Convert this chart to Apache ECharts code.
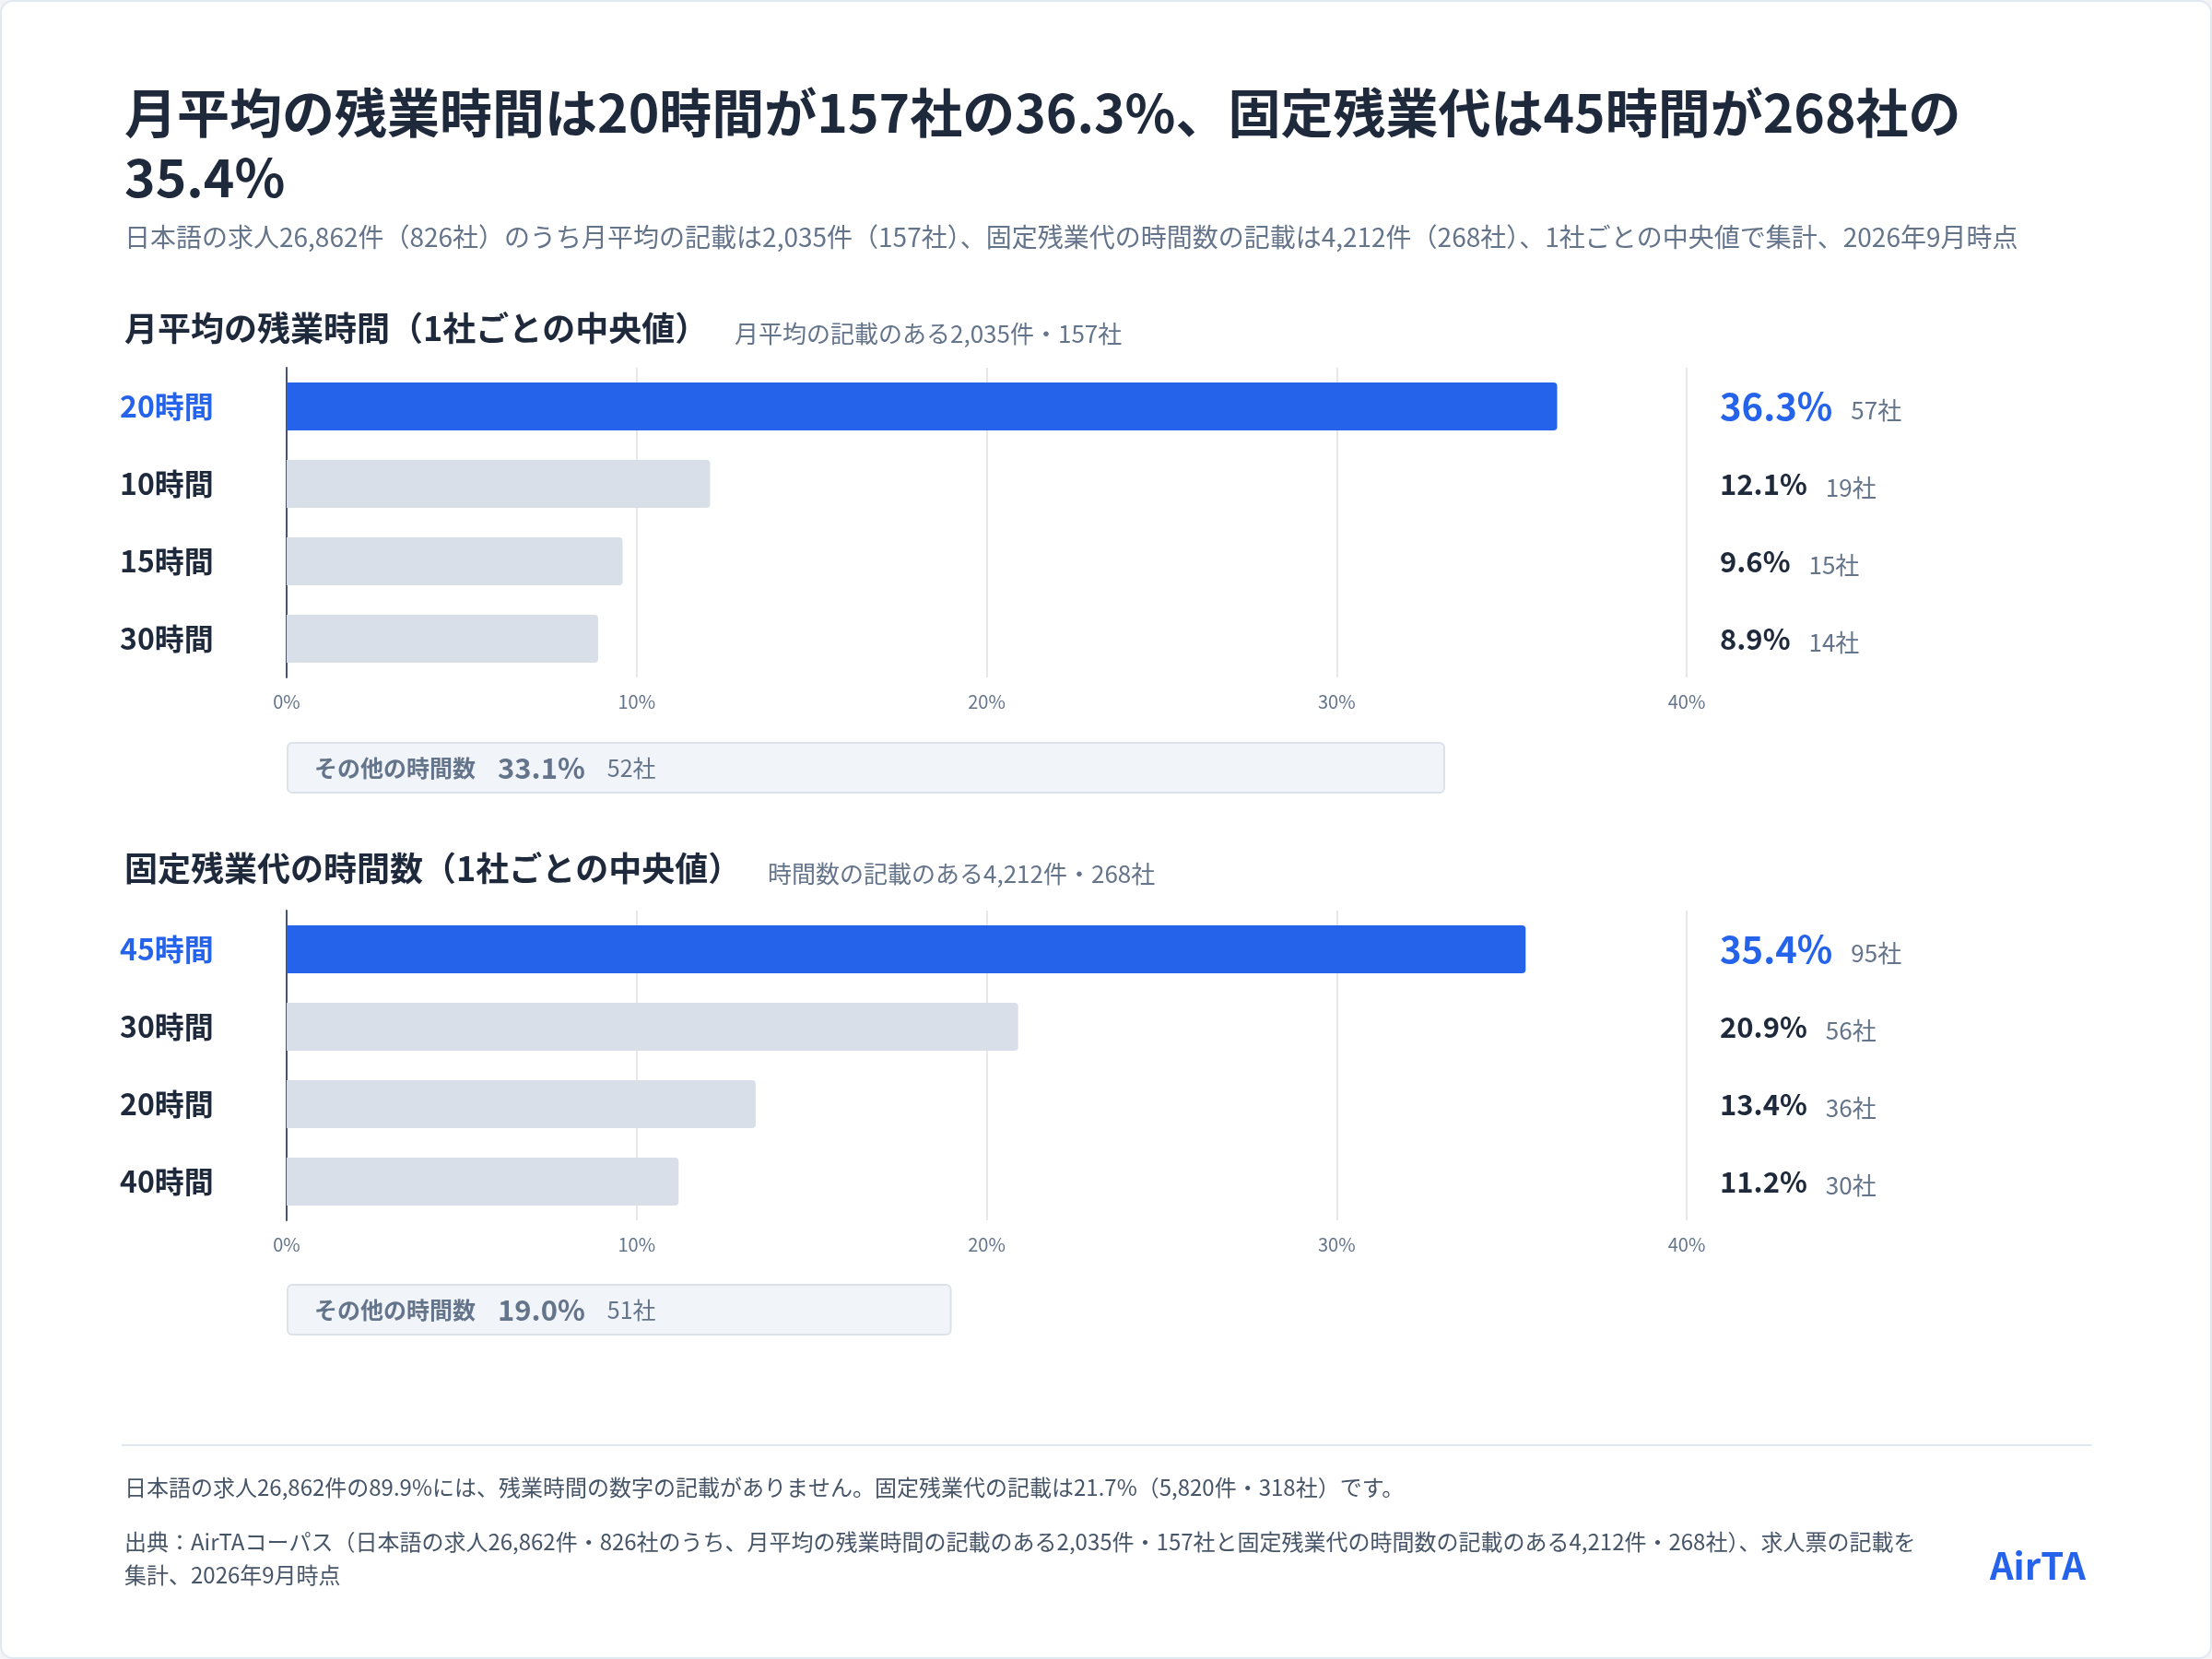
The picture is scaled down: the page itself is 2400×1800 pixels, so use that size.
<!DOCTYPE html>
<html>
<head>
<meta charset="utf-8">
<script src="https://cdn.jsdelivr.net/npm/echarts@6/dist/echarts.min.js"></script>
<style>
html, body { margin: 0; padding: 0; background: #f3f4f6; }
#card { position: absolute; left: 0; top: 0; width: 2396px; height: 1796px; background: #fff; border: 2px solid #e2e8f0; border-radius: 14px; }
#main { width: 2396px; height: 1796px; }
</style>
</head>
<body>
<div id="card"><div id="main"></div></div>
<script>
var FONT = '"Noto Sans CJK JP", "Noto Sans", sans-serif';

// 月平均の残業時間
var cats1 = ['20時間', '10時間', '15時間', '30時間'];
var pct1 = [36.3, 12.1, 9.6, 8.9];
var cnt1 = [57, 19, 15, 14];
var other1 = 33.1, otherCnt1 = 52;

// 固定残業代の時間数
var cats2 = ['45時間', '30時間', '20時間', '40時間'];
var pct2 = [35.4, 20.9, 13.4, 11.2];
var cnt2 = [95, 56, 36, 30];
var other2 = 19.0, otherCnt2 = 51;

var xTicks = [0, 10, 20, 30, 40];

var BLUE = '#2563eb', GREY = '#d9dfe8', DARK = '#1e293b', MUTED = '#64748b';

var chart = echarts.init(document.getElementById('main'));

function mainGrid(top) {
    return { left: 309, right: 2396 - 1828, top: top, height: 336 };
}
function otherGrid(top) {
    return { left: 309, right: 2396 - 1828, top: top, height: 58 };
}
function valueAxis(gi, show) {
    return {
        type: 'value', gridIndex: gi, min: xTicks[0], max: xTicks[xTicks.length - 1], interval: 10,
        axisLine: { show: false }, axisTick: { show: false },
        splitLine: { show: show, lineStyle: { color: '#e5e7eb', width: 2 } },
        axisLabel: { show: show, formatter: '{value}%', color: MUTED, fontSize: 20, fontFamily: FONT, margin: 16 }
    };
}
function catAxis(gi, cats) {
    return {
        type: 'category', gridIndex: gi, data: cats, inverse: true,
        axisTick: { show: false },
        axisLine: { show: true, lineStyle: { color: '#475569', width: 2 } },
        axisLabel: {
            margin: 181, align: 'left', fontSize: 32, fontWeight: 'bold', fontFamily: FONT,
            color: function (v, i) { return i === 0 ? BLUE : DARK; }
        }
    };
}
function rightAxis(gi, cats, pct, cnt) {
    return {
        type: 'category', gridIndex: gi, data: cats, inverse: true, position: 'right',
        axisTick: { show: false }, axisLine: { show: false },
        axisLabel: {
            margin: 36, align: 'left',
            formatter: function (v, i) {
                return (i === 0 ? '{h|' : '{p|') + pct[i].toFixed(1) + '%}{c|' + cnt[i] + '社}';
            },
            rich: {
                h: { fontSize: 40, fontWeight: 'bold', color: BLUE, fontFamily: FONT },
                p: { fontSize: 31, fontWeight: 'bold', color: DARK, fontFamily: FONT },
                c: { fontSize: 26, color: MUTED, fontFamily: FONT, padding: [8, 0, 0, 20] }
            }
        }
    };
}
function hiddenCat(gi) {
    return { type: 'category', gridIndex: gi, data: ['その他'], show: false };
}
function barSeries(xi, yi, pct) {
    return {
        type: 'bar', xAxisIndex: xi, yAxisIndex: yi, barWidth: 52,
        data: pct.map(function (v, i) {
            return { value: v, itemStyle: { color: i === 0 ? BLUE : GREY, borderRadius: [0, 4, 4, 0] } };
        })
    };
}
function otherSeries(xi, yi, val, cnt) {
    return {
        type: 'bar', xAxisIndex: xi, yAxisIndex: yi, barWidth: 56, silent: true,
        itemStyle: { color: '#f1f5f9', borderColor: '#dbe2ea', borderWidth: 2, borderRadius: 5 },
        label: {
            show: true, position: 'insideLeft', distance: 30,
            formatter: '{a|その他の時間数}{b|' + val.toFixed(1) + '%}{c|' + cnt + '社}',
            rich: {
                a: { fontSize: 25, fontWeight: 'bold', color: MUTED, fontFamily: FONT },
                b: { fontSize: 31, fontWeight: 'bold', color: MUTED, fontFamily: FONT, padding: [0, 0, 0, 24] },
                c: { fontSize: 25, color: MUTED, fontFamily: FONT, padding: [0, 0, 0, 24] }
            }
        },
        data: [val]
    };
}

var option = {
    backgroundColor: 'transparent',
    title: [
        { text: '月平均の残業時間は20時間が157社の36.3%、固定残業代は45時間が268社の\n35.4%', left: 128, top: 80,
          textStyle: { fontSize: 57, fontWeight: 'bold', color: DARK, fontFamily: FONT, lineHeight: 70 } },
        { text: '日本語の求人26,862件（826社）のうち月平均の記載は2,035件（157社）、固定残業代の時間数の記載は4,212件（268社）、1社ごとの中央値で集計、2026年9月時点',
          left: 128, top: 236, textStyle: { fontSize: 28, color: MUTED, fontWeight: 'normal', fontFamily: FONT } },
        { text: '月平均の残業時間（1社ごとの中央値）', left: 128, top: 331,
          textStyle: { fontSize: 36, fontWeight: 'bold', color: DARK, fontFamily: FONT } },
        { text: '月平均の記載のある2,035件・157社', left: 790, top: 342,
          textStyle: { fontSize: 26, fontWeight: 'normal', color: MUTED, fontFamily: FONT } },
        { text: '固定残業代の時間数（1社ごとの中央値）', left: 128, top: 917,
          textStyle: { fontSize: 36, fontWeight: 'bold', color: DARK, fontFamily: FONT } },
        { text: '時間数の記載のある4,212件・268社', left: 826, top: 928,
          textStyle: { fontSize: 26, fontWeight: 'normal', color: MUTED, fontFamily: FONT } },
        { text: '日本語の求人26,862件の89.9%には、残業時間の数字の記載がありません。固定残業代の記載は21.7%（5,820件・318社）です。',
          left: 128, top: 1595, textStyle: { fontSize: 24, fontWeight: 'normal', color: '#475569', fontFamily: FONT } },
        { text: '出典：AirTAコーパス（日本語の求人26,862件・826社のうち、月平均の残業時間の記載のある2,035件・157社と固定残業代の時間数の記載のある4,212件・268社）、求人票の記載を\n集計、2026年9月時点',
          left: 128, top: 1648, textStyle: { fontSize: 24, fontWeight: 'normal', color: '#475569', fontFamily: FONT, lineHeight: 36 } },
        { text: 'AirTA', right: 130, top: 1672,
          textStyle: { fontSize: 40, fontWeight: 'bold', color: BLUE, fontFamily: FONT } }
    ],
    graphic: [
        { type: 'line', shape: { x1: 130, y1: 1566, x2: 2268, y2: 1566 }, style: { stroke: '#e2e8f0', lineWidth: 2 } }
    ],
    grid: [mainGrid(397), otherGrid(802), mainGrid(986), otherGrid(1390)],
    xAxis: [valueAxis(0, true), valueAxis(1, false), valueAxis(2, true), valueAxis(3, false)],
    yAxis: [
        catAxis(0, cats1), rightAxis(0, cats1, pct1, cnt1), hiddenCat(1),
        catAxis(2, cats2), rightAxis(2, cats2, pct2, cnt2), hiddenCat(3)
    ],
    series: [
        barSeries(0, 0, pct1),
        otherSeries(1, 2, other1, otherCnt1),
        barSeries(2, 3, pct2),
        otherSeries(3, 5, other2, otherCnt2)
    ]
};
chart.setOption(option);
</script>
</body>
</html>
